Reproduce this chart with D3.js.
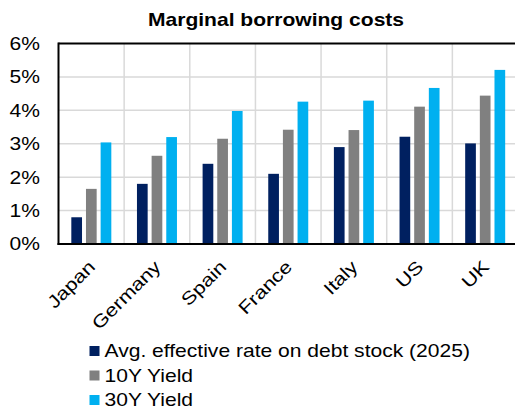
<!DOCTYPE html>
<html>
  <head>
    <meta charset="utf-8">
    <title>Marginal borrowing costs</title>
    <script src="https://d3js.org/d3.v7.min.js"></script>
    <style>
      body { margin: 0; background: #fff; }
      text { font-family: "Liberation Sans", Arial, sans-serif; fill: #000; }
    </style>
  </head>
  <body>
    <div id="graph"></div>
  </body>

  <script>
    // Chart data
    const countries = ["Japan", "Germany", "Spain", "France", "Italy", "US", "UK"];
    const series_names = ["Avg. effective rate on debt stock (2025)", "10Y Yield", "30Y Yield"];
    const series_colors = ["#002060", "#808080", "#00b0f0"];
    const avg_rate = [0.8, 1.8, 2.4, 2.1, 2.9, 3.21, 3.01];
    const yield_10y = [1.65, 2.64, 3.15, 3.42, 3.41, 4.11, 4.44];
    const yield_30y = [3.04, 3.2, 3.98, 4.26, 4.29, 4.67, 5.21];
    const y_ticks = [0, 1, 2, 3, 4, 5, 6];

    const width = 515;
    const height = 409;
    const margin = ({top: 43.5, right: -3, bottom: 165, left: 58.5});
    const stretch = 1.17; // text in the original is a bit wide

    let svg = d3.select("#graph").append("svg")
      .attr("width", width)
      .attr("height", height);

    // Title
    svg.append("text")
      .attr("transform", `translate(276, 26) scale(${stretch}, 1)`)
      .style("text-anchor", "middle")
      .style("font-weight", "bold")
      .style("font-size", "18px")
      .text("Marginal borrowing costs");

    let x = d3.scaleBand()
      .domain(countries)
      .range([margin.left, width - margin.right]);
    let x_inner = d3.scaleBand()
      .domain(series_names)
      .range([0, 40])
      .paddingInner(0.27);
    let y = d3.scaleLinear()
      .domain([0, 6])
      .range([height - margin.bottom, margin.top]);

    // Gridlines
    svg.append("g")
      .selectAll("line.h")
      .data(y_ticks.slice(1, -1))
      .enter()
      .append("line")
      .attr("x1", margin.left)
      .attr("x2", width)
      .attr("y1", d => y(d))
      .attr("y2", d => y(d))
      .style("stroke", "#d9d9d9")
      .style("stroke-width", 1.5);
    svg.append("g")
      .selectAll("line.v")
      .data(countries.slice(1))
      .enter()
      .append("line")
      .attr("x1", d => x(d))
      .attr("x2", d => x(d))
      .attr("y1", y(6))
      .attr("y2", y(0))
      .style("stroke", "#d9d9d9")
      .style("stroke-width", 1.5);

    // Bars
    const all_series = [avg_rate, yield_10y, yield_30y];
    all_series.forEach(function(values, s) {
      svg.append("g")
        .selectAll("rect")
        .data(values)
        .enter()
        .append("rect")
        .attr("x", (d, i) => x(countries[i]) + (x.bandwidth() - 40) / 2 + x_inner(series_names[s]))
        .attr("y", d => y(d))
        .attr("width", x_inner.bandwidth())
        .attr("height", d => y(0) - y(d))
        .style("fill", series_colors[s]);
    });

    // Frame: top border, left axis, bottom axis
    svg.append("line")
      .attr("x1", margin.left).attr("x2", width)
      .attr("y1", y(6)).attr("y2", y(6))
      .style("stroke", "#000").style("stroke-width", 2);
    svg.append("line")
      .attr("x1", margin.left).attr("x2", margin.left)
      .attr("y1", y(6) - 1).attr("y2", y(0) + 1)
      .style("stroke", "#000").style("stroke-width", 2);
    svg.append("line")
      .attr("x1", margin.left - 1).attr("x2", width)
      .attr("y1", y(0)).attr("y2", y(0))
      .style("stroke", "#000").style("stroke-width", 2);

    // Y axis labels
    svg.append("g")
      .selectAll("text")
      .data(y_ticks)
      .enter()
      .append("text")
      .attr("transform", d => `translate(40, ${y(d)}) scale(${stretch}, 1)`)
      .attr("dy", "0.36em")
      .style("text-anchor", "end")
      .style("font-size", "18px")
      .text(d => d + "%");

    // X labels, rotated
    svg.append("g")
      .selectAll("text")
      .data(countries)
      .enter()
      .append("text")
      .attr("transform", d => `translate(${x(d) + x.bandwidth() / 2 + 5}, ${y(0) + 24}) rotate(-45) scale(1.2, 1)`)
      .style("text-anchor", "end")
      .style("font-size", "18px")
      .text(d => d);

    // Legend
    let legend = svg.append("g")
      .selectAll("g")
      .data(series_names)
      .enter()
      .append("g")
      .attr("transform", (d, i) => `translate(89.5, ${346 + i * 24.5})`);
    legend.append("rect")
      .attr("width", 10)
      .attr("height", 10)
      .style("fill", (d, i) => series_colors[i]);
    legend.append("text")
      .attr("transform", `translate(15, 11) scale(${stretch}, 1)`)
      .style("font-size", "18px")
      .text(d => d);
  </script>
</html>
